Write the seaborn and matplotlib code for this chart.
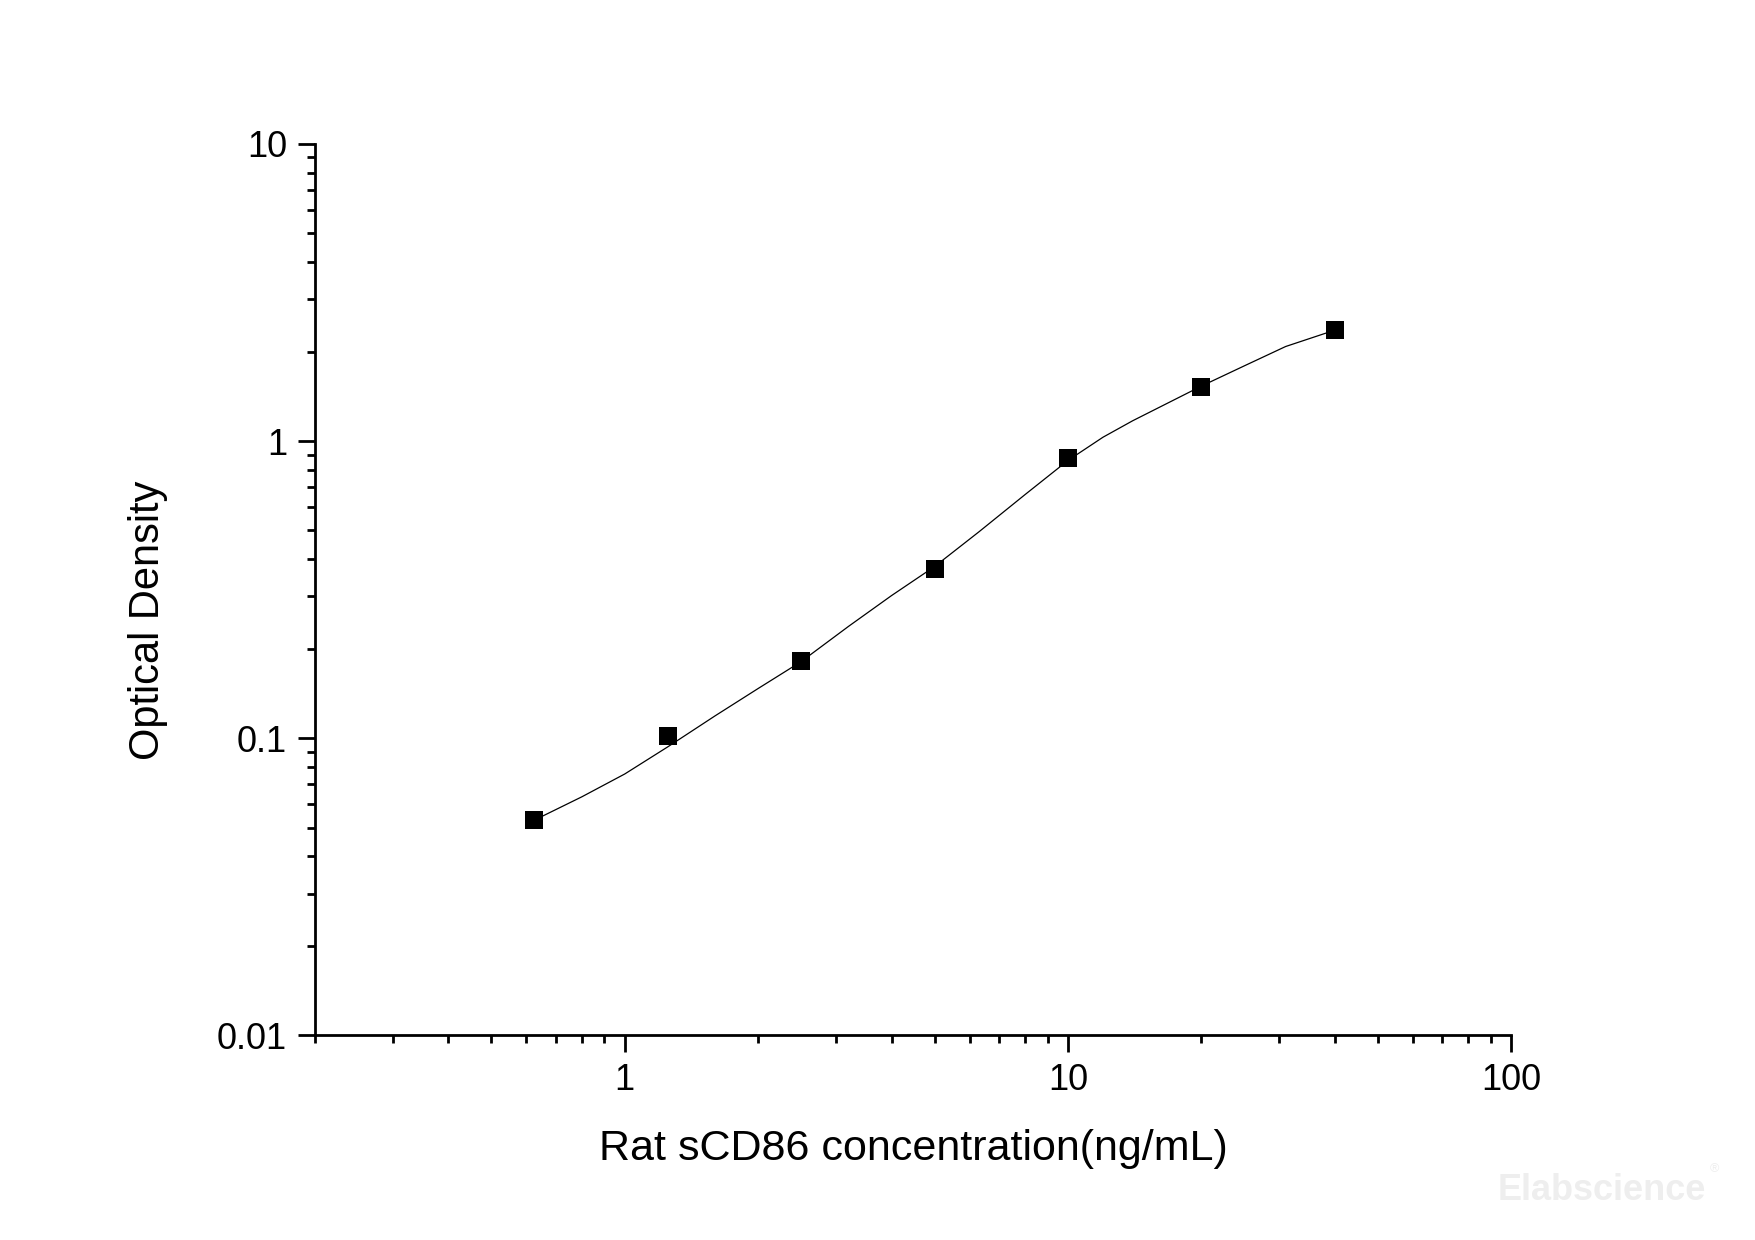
import matplotlib
matplotlib.use("Agg")
import matplotlib.pyplot as plt
import matplotlib.ticker as mticker
import pandas as pd
import seaborn as sns

# Standards (ng/mL) et densités optiques
conc = [0.625, 1.25, 2.5, 5, 10, 20, 40]
od = [0.053, 0.102, 0.182, 0.37, 0.875, 1.52, 2.36]

# Points de la courbe ajustée
curve_x = [0.625, 0.8, 1.0, 1.25, 1.6, 2.0, 2.5, 3.2, 4.0, 5.0, 6.3, 8.0, 10, 12, 14, 20, 25, 31, 36, 40]
curve_y = [0.053, 0.0635, 0.0758, 0.0935, 0.119, 0.147, 0.181, 0.238, 0.302, 0.378, 0.495,
           0.66, 0.86, 1.03, 1.17, 1.53, 1.79, 2.08, 2.24, 2.36]

x_label = "Rat sCD86 concentration(ng/mL)"
y_label = "Optical Density"

df_pts = pd.DataFrame({"conc": conc, "od": od})
df_curve = pd.DataFrame({"conc": curve_x, "od": curve_y})

sns.set_style("ticks")
plt.rcParams["font.family"] = ["Liberation Sans", "DejaVu Sans"]
plt.rcParams["text.color"] = "black"
plt.rcParams["axes.labelcolor"] = "black"

fig = plt.figure(figsize=(17.55, 12.4), dpi=100)
ax = fig.add_axes([0.1795, 0.165, 0.6815, 0.719])

sns.lineplot(data=df_curve, x="conc", y="od", ax=ax, color="black", linewidth=0.9, sort=False)
sns.scatterplot(data=df_pts, x="conc", y="od", ax=ax, marker="s", s=160, color="black",
                edgecolor="black", linewidth=0, zorder=3)

ax.set_xscale("log")
ax.set_yscale("log")
ax.set_xlim(0.2, 100)
ax.set_ylim(0.01, 10)

ax.xaxis.set_major_locator(mticker.FixedLocator([1, 10, 100]))
ax.xaxis.set_major_formatter(mticker.FixedFormatter(["1", "10", "100"]))
ax.xaxis.set_minor_locator(mticker.LogLocator(base=10, subs=range(2, 10), numticks=20))
ax.xaxis.set_minor_formatter(mticker.NullFormatter())
ax.yaxis.set_major_locator(mticker.FixedLocator([0.01, 0.1, 1, 10]))
ax.yaxis.set_major_formatter(mticker.FixedFormatter(["0.01", "0.1", "1", "10"]))
ax.yaxis.set_minor_locator(mticker.LogLocator(base=10, subs=range(2, 10), numticks=20))
ax.yaxis.set_minor_formatter(mticker.NullFormatter())

sns.despine(ax=ax)
for s in ["left", "bottom"]:
    ax.spines[s].set_linewidth(2)
    ax.spines[s].set_color("black")

ax.tick_params(which="major", direction="out", length=12, width=2, labelsize=26, pad=8,
               colors="black", labelcolor="black")
ax.tick_params(which="minor", direction="out", length=6, width=2, colors="black")

ax.set_xlabel(x_label, fontsize=31, labelpad=22, color="black")
ax.set_ylabel(y_label, fontsize=30, color="black")
ax.yaxis.set_label_coords(-0.123, 0.466)

fig.text(0.972, 0.040, "Elabscience", fontsize=26, color="#eeeeee", ha="right", va="center",
         fontweight="bold")
fig.text(0.974, 0.052, "®", fontsize=9, color="#eeeeee", ha="left", va="bottom")

plt.savefig("out.png", dpi=100)
plt.close()
